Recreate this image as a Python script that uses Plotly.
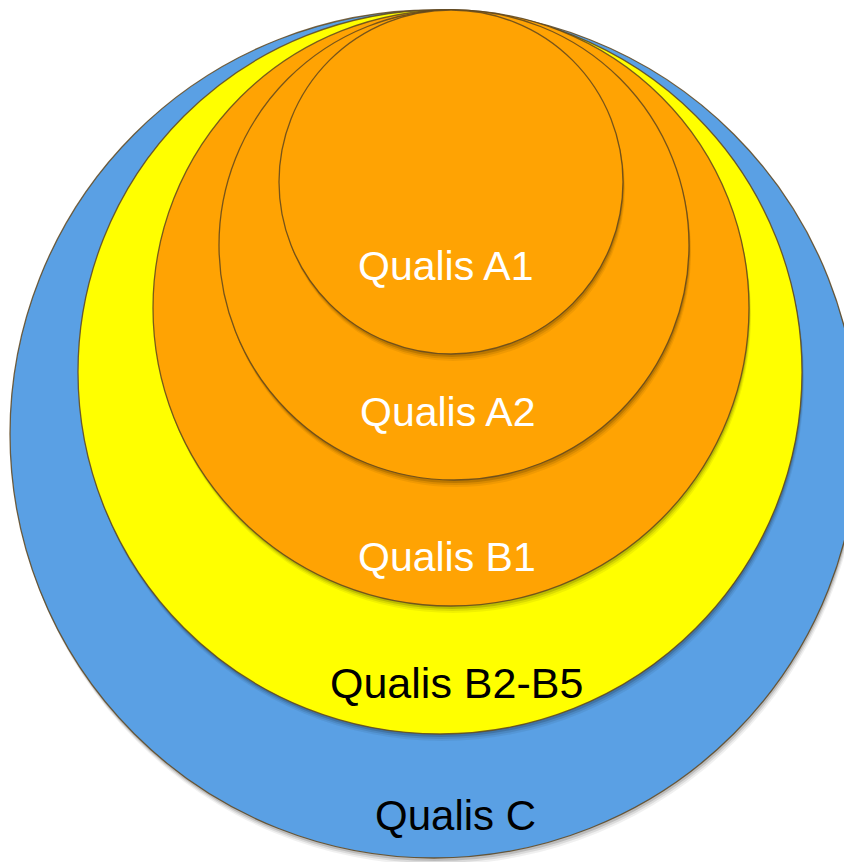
import plotly.graph_objects as go

# Data: nested Qualis levels (outer to inner)
labels = ["Qualis C", "Qualis B2-B5", "Qualis B1", "Qualis A2", "Qualis A1"]
radii = [424, 362, 298, 235, 172]
centers_x = [434, 440, 451, 454, 451]
top_y = 10  # all circles touch near the top

# Styles
fills = ["#5AA0E4", "#FFFF00", "#FFA303", "#FFA303", "#FFA303"]
text_colors = ["black", "black", "white", "white", "white"]
font_sizes = [42, 43, 41, 41, 41]
label_pos = [(455, 815), (456, 683), (447, 557), (448, 412), (446, 266)]

# page body has an 8px margin: shift the view so page pixels line up
OFF = 8
W, H = 852, 862

fig = go.Figure()
shapes = []
for lab, r, cx, fc in zip(labels, radii, centers_x, fills):
    cy = top_y + r
    # soft shadow
    for off, op in [(7, 0.06), (5, 0.09), (3, 0.14)]:
        shapes.append(dict(type="circle", xref="x", yref="y",
                           x0=cx - r + off * 0.3, x1=cx + r + off * 0.3,
                           y0=cy - r + off, y1=cy + r + off,
                           fillcolor=f"rgba(0,0,0,{op})", line=dict(width=0),
                           layer="above"))
    shapes.append(dict(type="circle", xref="x", yref="y",
                       x0=cx - r, x1=cx + r, y0=cy - r, y1=cy + r,
                       fillcolor=fc, line=dict(color="rgba(95,70,30,0.85)", width=1.3),
                       layer="above"))

annotations = []
for lab, tc, fs, (x, y) in zip(labels, text_colors, font_sizes, label_pos):
    annotations.append(dict(x=x, y=y, xref="x", yref="y", text=lab, showarrow=False,
                            font=dict(family="Liberation Sans, Arial, sans-serif",
                                      size=fs, color=tc),
                            xanchor="center", yanchor="middle"))

fig.add_trace(go.Scatter(x=[OFF, W], y=[OFF, H], mode="markers",
                         marker=dict(opacity=0), hoverinfo="skip", showlegend=False))

fig.update_layout(
    width=W - OFF, height=H - OFF,
    margin=dict(l=0, r=0, t=0, b=0),
    paper_bgcolor="white", plot_bgcolor="white",
    shapes=shapes, annotations=annotations,
    xaxis=dict(range=[OFF, W], visible=False, fixedrange=True),
    yaxis=dict(range=[H, OFF], visible=False, fixedrange=True),
    showlegend=False,
)

fig.write_html("out.html")
